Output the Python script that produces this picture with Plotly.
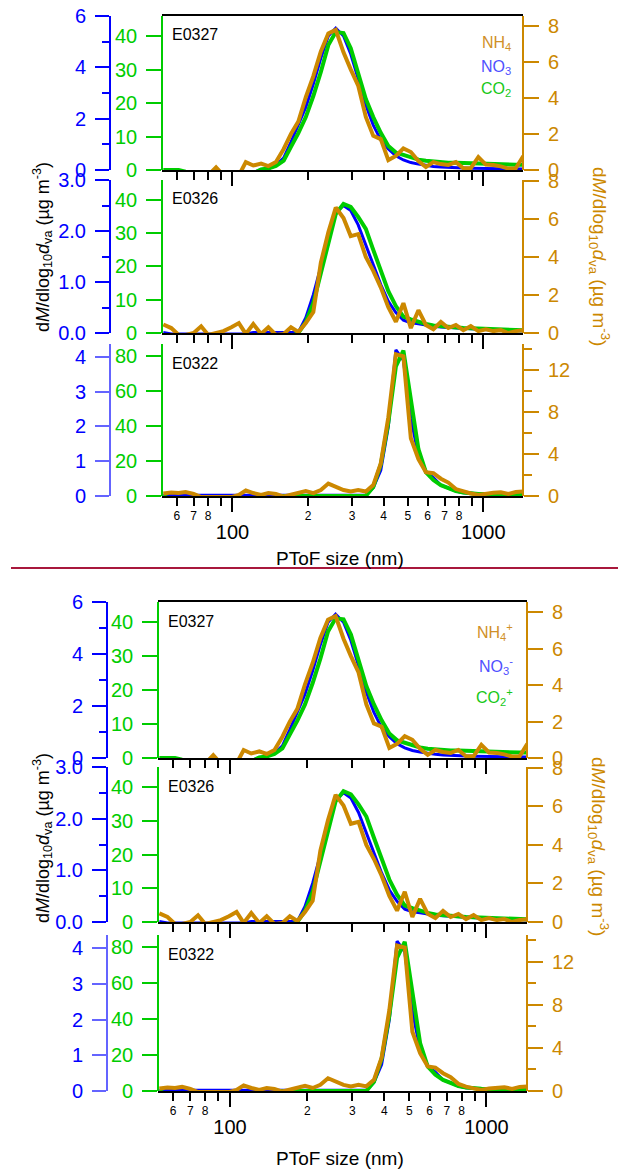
import plotly.graph_objects as go

# ---------------- data ----------------
size_nm = [53, 57, 61, 65, 70, 75, 80, 86, 92, 99, 106, 113, 121, 130, 139, 149, 160, 171,
           183, 196, 210, 225, 241, 258, 277, 296, 317, 340, 364, 390, 418, 448, 480, 514,
           551, 590, 632, 677, 725, 777, 832, 891, 955, 1023, 1096, 1174, 1258, 1347, 1443]

# E0327
no3_E0327 = [-0.1, -0.1, -0.1, -0.1, -0.1, -0.1, -0.1, -0.1, -0.1, -0.1, -0.1, -0.1, -0.1,
             0.02, 0.06, 0.18, 0.47, 1.09, 1.75, 2.45, 3.35, 4.36, 5.22, 5.53, 5.22, 4.52,
             3.55, 2.53, 1.75, 1.17, 0.82, 0.55, 0.39, 0.29, 0.23, 0.18, 0.14, 0.12, 0.10,
             0.08, 0.08, 0.07, 0.06, 0.06, 0.05, 0.05, 0.05, 0.04, 0.04]
co2_E0327 = [0, 0, 0, -0.5, -1, -1, -1, -1, -1, -1, -1, -1, -1,
             0.15, 0.45, 1.2, 2.8, 6.9, 11.0, 15.8, 22.1, 29.3, 37.3, 41.2, 40.9, 36.4,
             29.3, 21.2, 15.8, 11.1, 7.2, 5.2, 4.5, 3.7, 3.1, 2.75, 2.5, 2.3, 2.2,
             2.2, 2.1, 2.1, 2.0, 2.0, 1.9, 1.8, 1.7, 1.6, 1.6]
nh4_E0327 = [-0.3, -0.3, -0.3, -0.3, -0.3, -0.3, -0.3, 0.15, -0.3, -0.3, -0.3, 0.44, 0.25,
             0.36, 0.22, 0.44, 1.17, 2.0, 2.7, 4.05, 5.22, 6.6, 7.6, 7.8, 6.55, 5.6,
             4.7, 2.95, 1.9, 1.72, 0.55, 0.78, 1.2, 1.0, 0.5, 0.17, 0.44, 0.33, 0.28,
             0.44, 0.1, 0.1, 0.72, 0.3, 0.28, 0.2, 0.08, 0.1, 0.78]

# E0326
no3_E0326 = [0.01, -0.02, -0.02, -0.02, -0.02, -0.02, -0.02, -0.02, -0.02, -0.02, -0.02, -0.02,
             0.01, 0.01, 0.01, 0.01, 0.01, 0.01, 0.01,
             0.3, 0.75, 1.3, 1.85, 2.37, 2.5, 2.4, 2.12, 1.73, 1.32, 0.95, 0.62, 0.4, 0.25,
             0.2, 0.18, 0.15, 0.13, 0.12, 0.11, 0.1, 0.09, 0.08, 0.08, 0.07, 0.06, 0.06,
             0.05, 0.05, 0.04]
co2_E0326 = [-1, -1, -1, -1, -1, -1, -1, -1, -1, -1, -1, -1, -1, -1, -1, -1, -1, -1,
             0.0, 3.3, 9.0, 18.0, 27.7, 35.8, 38.8, 37.9, 34.9, 31.3, 25.0, 18.6, 12.6,
             8.1, 4.9, 4.1, 3.3, 2.7, 2.25, 2.0, 1.8, 1.6, 1.5, 1.4, 1.3, 1.2, 1.1, 1.0,
             0.9, 0.9, 0.8]
nh4_E0326 = [0.45, 0.26, -0.1, -0.1, 0.0, 0.35, -0.1, 0.0, 0.1, 0.3, 0.52, -0.05, 0.47,
             -0.05, 0.3, -0.1, -0.05, 0.3, 0.05, 0.52, 1.1, 3.7, 5.3, 6.6, 6.05, 5.1,
             5.2, 4.0, 3.27, 2.4, 1.36, 0.59, 1.57, 0.26, 1.2, 0.42, 0.2, 0.58, 0.26,
             0.42, 0.15, 0.36, 0.1, 0.2, 0.1, 0.15, 0.0, 0.1, 0.15]

# E0322
no3_E0322 = [0.02, 0.02, 0.02, 0.02, 0.02, 0.02, 0.02, 0.02, 0.02, 0.02, 0.02, 0.02, 0.02, 0.02,
             0.02, 0.02, 0.02, 0.02, 0.02, 0.02, 0.02, 0.02, 0.02, 0.02, 0.02, 0.02, 0.02, 0.02,
             0.24, 0.74, 2.0, 4.2, 3.9, 2.23, 1.17, 0.71, 0.53, 0.31, 0.23, 0.14, 0.09,
             0.07, 0.06, 0.05, 0.05, 0.04, 0.04, 0.03, 0.03]
co2_E0322 = [0, -2, -2, -2, -2, -2, -2, -2, -2, -2, -2, -2, -2, -2, -2, -2,
             0, 0, 0, 0, 0, 0, 0, 0, 0, 0, 0, 0,
             5.1, 18.0, 42.0, 74.0, 83.0, 53.9, 26.7, 13.6, 9.1, 6.2, 4.5, 2.8, 2.0,
             1.4, 1.2, 1.1, 1.0, 1.0, 0.9, 0.9, 0.8]
nh4_E0322 = [0.24, 0.33, 0.28, 0.38, 0.19, -0.1, -0.1, -0.1, -0.05, -0.1, 0.1, 0.52, 0.28,
             0.1, 0.28, 0.19, -0.05, 0.14, 0.28, 0.47, 0.28, 0.57, 1.18, 0.85, 0.57, 0.43,
             0.57, 0.43, 1.04, 3.1, 7.5, 13.5, 13.3, 5.5, 3.5, 2.27, 2.17, 1.65, 1.28,
             0.66, 0.4, 0.24, 0.1, 0.24, 0.31, 0.35, 0.2, 0.38, 0.43]

sample_names = ["E0327", "E0326", "E0322"]

x_minor_ticks = [60, 70, 80, 90, 200, 300, 400, 500, 600, 700, 800, 900]
x_minor_text = ["6", "7", "8", "", "2", "3", "4", "5", "6", "7", "8", ""]
x_major_ticks = [100, 1000]
x_major_text = ["100", "1000"]

blue_ticks = [[0, 2, 4, 6], [0, 1, 2, 3], [0, 1, 2, 3, 4]]
blue_text = [["0", "2", "4", "6"], ["0.0", "1.0", "2.0", "3.0"], ["0", "1", "2", "3", "4"]]
blue_minor = [[1, 3, 5], [0.5, 1.5, 2.5], []]
blue_range = [[0, 6], [0, 3], [0, 4.37]]
green_ticks = [[0, 10, 20, 30, 40], [0, 10, 20, 30, 40], [0, 20, 40, 60, 80]]
green_range = [[0, 46], [0, 46], [0, 86.8]]
orange_ticks = [[0, 2, 4, 6, 8], [0, 2, 4, 6, 8], [0, 4, 8, 12]]
orange_minor = [[], [], [2, 6, 10, 14]]
orange_range = [[0, 8.57], [0, 8.05], [0, 14.47]]

# ---------------- styling ----------------
W, H = 618, 1171
FONT = "Liberation Sans, Arial, sans-serif"
BLUE = "#0000ff"
BLUE_LIGHT = "#6464ff"
GREEN = "#00cc00"
ORANGE = "#cc8800"
XRANGE = [1.719, 3.158]

series = {
    "E0327": (no3_E0327, co2_E0327, nh4_E0327),
    "E0326": (no3_E0326, co2_E0326, nh4_E0326),
    "E0322": (no3_E0322, co2_E0322, nh4_E0322),
}

copies = [
    dict(x0=162, x1=523, blue_x=110, rows=[(16, 170), (180, 333), (344, 496)], charged=False,
         legend_y=[43, 67, 89], legend_x=513, ltitle_y=247, rtitle_y=256, xtitle_y=558),
    dict(x0=158, x1=527, blue_x=107, rows=[(602, 758), (767, 922), (935, 1091)], charged=True,
         legend_y=[632, 666, 697], legend_x=515, ltitle_y=838, rtitle_y=846, xtitle_y=1158),
]


def px_x(v):
    return v / W


def px_y(v):
    return 1 - v / H


def nm(prefix, n):
    return prefix if n == 1 else f"{prefix}{n}"


def axkey(prefix, n):
    return f"{prefix}axis" if n == 1 else f"{prefix}axis{n}"


fig = go.Figure()
layout = {}
annotations = []

for c, cp in enumerate(copies):
    xdom = [px_x(cp["x0"]), px_x(cp["x1"])]
    for p in range(3):
        k = c * 3 + p
        xa, xb = 2 * k + 1, 2 * k + 2
        yb, yg, yo = 3 * k + 1, 3 * k + 2, 3 * k + 3
        top, bot = cp["rows"][p]
        ydom = [px_y(bot), px_y(top)]
        last = (p == 2)
        bline = BLUE_LIGHT if p == 2 else BLUE

        # x axes
        layout[axkey("x", xa)] = dict(
            domain=xdom, anchor=nm("y", yb), type="log", range=XRANGE,
            showline=True, linecolor="black", linewidth=1.5, mirror=(p == 0),
            showgrid=False, zeroline=False,
            ticks="outside", ticklen=8, tickwidth=1.5, tickcolor="black",
            tickmode="array", tickvals=x_minor_ticks, ticktext=x_minor_text,
            showticklabels=last, tickfont=dict(family=FONT, size=12, color="black"),
        )
        layout[axkey("x", xb)] = dict(
            domain=xdom, overlaying=nm("x", xa), anchor=nm("y", yb), type="log", range=XRANGE,
            showline=False, showgrid=False, zeroline=False,
            ticks="outside", ticklen=15, tickwidth=1.5, tickcolor="black",
            tickmode="array", tickvals=x_major_ticks, ticktext=x_major_text,
            showticklabels=last, tickfont=dict(family=FONT, size=20, color="black"),
            ticklabelstandoff=3,
        )
        # y axes
        yb_dict = dict(
            domain=ydom, anchor="free", position=px_x(cp["blue_x"]), side="left",
            range=blue_range[p], showline=True, linecolor=bline, linewidth=2,
            showgrid=False, zeroline=False,
            ticks="outside", ticklen=14, tickwidth=2, tickcolor=bline,
            tickmode="array", tickvals=blue_ticks[p], ticktext=blue_text[p],
            tickfont=dict(family=FONT, size=20, color=BLUE), ticklabelstandoff=5,
        )
        if blue_minor[p]:
            yb_dict["minor"] = dict(ticks="outside", ticklen=7, tickwidth=2, tickcolor=bline,
                                    tickmode="array", tickvals=blue_minor[p])
        layout[axkey("y", yb)] = yb_dict
        layout[axkey("y", yg)] = dict(
            overlaying=nm("y", yb), anchor="free", position=px_x(cp["x0"]), side="left",
            range=green_range[p], showline=True, linecolor=GREEN, linewidth=1.5,
            showgrid=False, zeroline=False,
            ticks="outside", ticklen=15, tickwidth=2, tickcolor=GREEN,
            tickmode="array", tickvals=green_ticks[p], showticklabels=False,
        )
        yo_dict = dict(
            overlaying=nm("y", yb), anchor="free", position=px_x(cp["x1"]), side="right",
            range=orange_range[p], showline=True, linecolor=ORANGE, linewidth=2,
            showgrid=False, zeroline=False,
            ticks="outside", ticklen=15, tickwidth=2, tickcolor=ORANGE,
            tickmode="array", tickvals=orange_ticks[p], showticklabels=False,
        )
        if orange_minor[p]:
            yo_dict["minor"] = dict(ticks="outside", ticklen=8, tickwidth=2, tickcolor=ORANGE,
                                    tickmode="array", tickvals=orange_minor[p])
        layout[axkey("y", yo)] = yo_dict

        # tick labels of the overlaid green / orange axes, placed on their own scales
        for v in green_ticks[p]:
            annotations.append(dict(
                text=str(v), xref="paper", yref=nm("y", yg), x=px_x(cp["x0"] - 24), y=v,
                xanchor="right", yanchor="middle", showarrow=False, borderpad=0,
                font=dict(family=FONT, size=20, color=GREEN)))
        for v in orange_ticks[p]:
            annotations.append(dict(
                text=str(v), xref="paper", yref=nm("y", yo), x=px_x(cp["x1"] + 24), y=v,
                xanchor="left", yanchor="middle", showarrow=False, borderpad=0,
                font=dict(family=FONT, size=20, color=ORANGE)))

        name = sample_names[p]
        no3, co2, nh4 = series[name]
        # empty carrier trace so that the overlaid major-tick x axis is drawn
        fig.add_trace(go.Scatter(x=x_major_ticks, y=[None, None], mode="lines",
                                 xaxis=nm("x", xb), yaxis=nm("y", yb),
                                 showlegend=False, hoverinfo="skip"))
        fig.add_trace(go.Scatter(x=size_nm, y=no3, mode="lines", xaxis=nm("x", xa), yaxis=nm("y", yb),
                                 line=dict(color=BLUE, width=3), showlegend=False))
        fig.add_trace(go.Scatter(x=size_nm, y=co2, mode="lines", xaxis=nm("x", xa), yaxis=nm("y", yg),
                                 line=dict(color=GREEN, width=4), showlegend=False))
        fig.add_trace(go.Scatter(x=size_nm, y=nh4, mode="lines", xaxis=nm("x", xa), yaxis=nm("y", yo),
                                 line=dict(color=ORANGE, width=4), showlegend=False))

        annotations.append(dict(
            text=name, xref="paper", yref="paper", x=px_x(cp["x0"] + 8), y=px_y(top + 19),
            xanchor="left", yanchor="middle", showarrow=False,
            font=dict(family=FONT, size=16, color="black")))

    # legend-like labels
    if cp["charged"]:
        labels = ["NH<sub>4</sub><sup>+</sup>", "NO<sub>3</sub><sup>-</sup>", "CO<sub>2</sub><sup>+</sup>"]
    else:
        labels = ["NH<sub>4</sub>", "NO<sub>3</sub>", "CO<sub>2</sub>"]
    lcolors = ["#d09028", "#5050ff", "#18c818"]
    for lab, col, ly in zip(labels, lcolors, cp["legend_y"]):
        annotations.append(dict(
            text=lab, xref="paper", yref="paper", x=px_x(cp["legend_x"]), y=px_y(ly),
            xanchor="right", yanchor="middle", showarrow=False,
            font=dict(family=FONT, size=16, color=col)))

    ytitle = "d<i>M</i>/dlog<sub>10</sub><i>d</i><sub>va</sub> (µg m<sup>-3</sup>)"
    annotations.append(dict(
        text=ytitle, xref="paper", yref="paper", x=px_x(42), y=px_y(cp["ltitle_y"]),
        xanchor="center", yanchor="middle", textangle=-90, showarrow=False,
        font=dict(family=FONT, size=18, color="black")))
    annotations.append(dict(
        text=ytitle, xref="paper", yref="paper", x=px_x(599), y=px_y(cp["rtitle_y"]),
        xanchor="center", yanchor="middle", textangle=90, showarrow=False,
        font=dict(family=FONT, size=19, color=ORANGE)))
    annotations.append(dict(
        text="PToF size (nm)", xref="paper", yref="paper", x=px_x(340), y=px_y(cp["xtitle_y"]),
        xanchor="center", yanchor="middle", showarrow=False,
        font=dict(family=FONT, size=19, color="black")))

layout["annotations"] = annotations
layout["shapes"] = [dict(type="line", xref="paper", yref="paper", x0=px_x(11), x1=1,
                         y0=px_y(568), y1=px_y(568), line=dict(color="#a8183c", width=2))]
layout["width"] = W
layout["height"] = H
layout["margin"] = dict(l=0, r=0, t=0, b=0, pad=0, autoexpand=False)
layout["paper_bgcolor"] = "white"
layout["plot_bgcolor"] = "white"
layout["showlegend"] = False
fig.update_layout(**layout)

fig.write_html("out.html")
